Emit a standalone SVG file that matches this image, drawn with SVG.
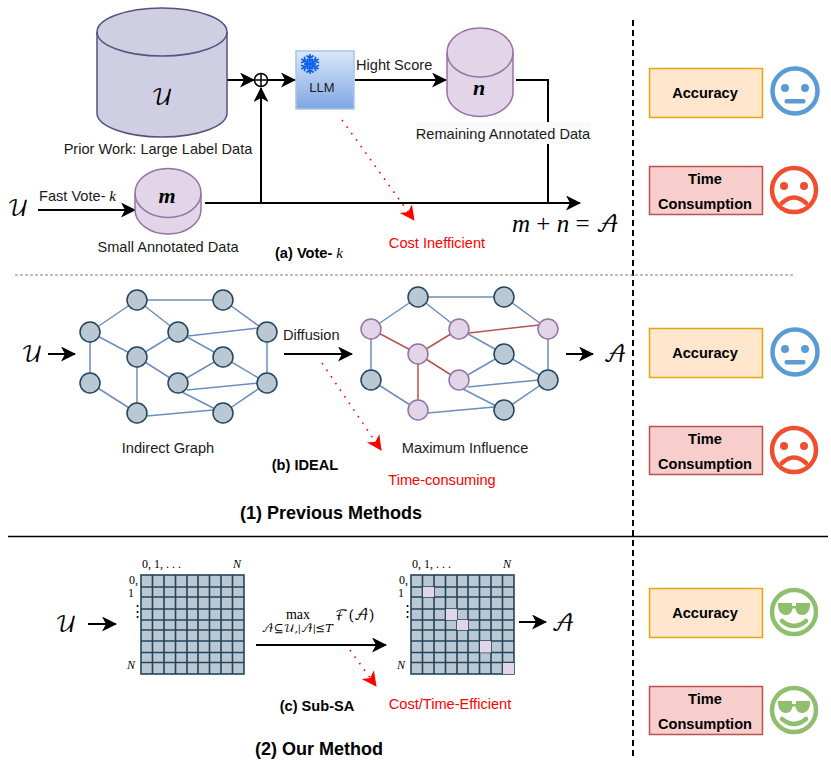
<svg xmlns="http://www.w3.org/2000/svg" xmlns:xlink="http://www.w3.org/1999/xlink" width="831" height="769" viewBox="0 0 831 769">
<style>
text{font-family:"Liberation Sans",Arial,sans-serif;font-size:14.600px;fill:#1a1a1a}
.c{text-anchor:middle}
.b{font-weight:bold;fill:#000}
.sub{font-size:14.600px}
.h{font-size:18px}
.red{fill:#ff0000}
.math{font-family:"DejaVu Math TeX Gyre","Liberation Serif",serif;fill:#000}
.m{font-family:"Liberation Serif",serif;fill:#000}
.i{font-style:italic}
.ln{fill:none;stroke:#000;stroke-width:2}
.arr{marker-end:url(#ah)}
.dot{fill:none;stroke:#ff0000;stroke-width:1.6;stroke-dasharray:1.6 6.4;marker-end:url(#rh)}
.e{stroke:#6c8ebf;stroke-width:1.5;fill:none}
.er{stroke:#b85450;stroke-width:1.5;fill:none}
.n{fill:#bac8d3;stroke:#23445d;stroke-width:1.5}
.p{fill:#e1d5e7;stroke:#9673a6;stroke-width:1.5}
.acc{fill:#ffe6cc;stroke:#e3a60f;stroke-width:1.5}
.tim{fill:#f8cecc;stroke:#b85450;stroke-width:1.5}
.blue{fill:none;stroke:#5b9bd5;stroke-width:4.5}
.redf{fill:none;stroke:#ef4f2f;stroke-width:4.5}
.grn{fill:none;stroke:#8fbf6c;stroke-width:4.5}
.grid{fill:none;stroke:#23445d;stroke-width:1.6}
.ax{font-size:12px}
</style>
<defs>
<marker id="ah" markerUnits="userSpaceOnUse" markerWidth="16" markerHeight="16" refX="14" refY="7.5" orient="auto"><path d="M0,0 L15,7.5 L0,15 L4,7.5 Z" fill="#000"/></marker>
<marker id="rh" markerUnits="userSpaceOnUse" markerWidth="16" markerHeight="16" refX="14" refY="7.5" orient="auto"><path d="M0,0 L15,7.5 L0,15 L4,7.5 Z" fill="#ff0000"/></marker>
<linearGradient id="llm" x1="0" y1="0" x2="0" y2="1"><stop offset="0" stop-color="#dae8fc"/><stop offset="1" stop-color="#7ea6e0"/></linearGradient>
<g id="arm"><path d="M0,0 V-10 M-3.5,-8.5 L0,-5.5 L3.5,-8.5 M-3,-5 L0,-2.5 L3,-5" fill="none" stroke="#0b5fe8" stroke-width="1.7"/></g>
<g id="shades"><path d="M-16,-9 H-2 V-6 H2 V-9 H16 C16.5,-3 14,3 8,3 C4,3 2,0 1.5,-3.5 H-1.5 C-2,0 -4,3 -8,3 C-14,3 -16.5,-3 -16,-9 Z" fill="#8fbf6c"/><path d="M-12,9 Q0,19 12,9" fill="none" stroke="#8fbf6c" stroke-width="4.5" stroke-linecap="round"/></g>
<g id="neutral"><circle r="22.5" class="blue"/><circle cx="-10" cy="-3" r="4" fill="#5b9bd5"/><circle cx="10" cy="-3" r="4" fill="#5b9bd5"/><rect x="-10.5" y="8" width="21" height="4.5" rx="2" fill="#5b9bd5"/></g>
<g id="sad"><circle r="22" class="redf"/><circle cx="-10" cy="-4" r="4" fill="#ef4f2f"/><circle cx="10" cy="-4" r="4" fill="#ef4f2f"/><path d="M-12,13 Q0,2 12,13" fill="none" stroke="#ef4f2f" stroke-width="4.5" stroke-linecap="round"/></g>
<g id="happy"><circle r="22" class="grn"/><use xlink:href="#shades" href="#shades"/></g>
<g id="gridlines">
<rect x="0" y="0" width="103" height="99" fill="#bac8d3" stroke="#23445d" stroke-width="1.6"/>
<path class="grid" d="M11.5,0V99M23,0V99M34.5,0V99M46,0V99M57,0V99M68.5,0V99M80,0V99M91.5,0V99M0,12H103M0,22H103M0,34H103M0,45H103M0,55H103M0,66H103M0,77.5H103M0,87.5H103"/>
</g>
<g id="axes">
<text class="m ax" x="1" y="-7">0, 1, . . .</text>
<text class="m i ax" x="92" y="-7">N</text>
<text class="m ax" x="-12" y="9">0,</text>
<text class="m ax" x="-13" y="22">1</text>
<text class="m" x="-11" y="41" style="font-size:15px">⋮</text>
<text class="m i ax" x="-14" y="94">N</text>
</g>
</defs>
<rect width="831" height="769" fill="#fff"/>

<g id="connectors">
<path class="ln arr" d="M227,80H254"/>
<path class="ln arr" d="M268,80H295"/>
<path class="ln arr" d="M261,203V88"/>
<path class="ln arr" d="M38,210H135"/>
<path class="ln arr" d="M205,203H580"/>
<path class="ln arr" d="M355,80H446"/>
<path class="ln" d="M516,80H548V203"/>
<path class="dot" d="M342,120L414,220"/>
<path class="ln arr" d="M48,354H75"/>
<path class="ln arr" d="M284,354H352"/>
<path class="ln arr" d="M566,354H593"/>
<path class="dot" d="M322,363L381,450"/>
<path class="ln arr" d="M88,624H116"/>
<path class="ln arr" d="M256,645H386"/>
<path class="ln arr" d="M519,622H546"/>
<path class="dot" d="M350,650L376,686"/>
<path d="M633,20V760" fill="none" stroke="#000" stroke-width="2" stroke-dasharray="6 4"/>
<path d="M15,275H795" fill="none" stroke="#808080" stroke-width="1.2" stroke-dasharray="3 2"/>
<path d="M8,536.500H828" fill="none" stroke="#000" stroke-width="1.5"/>
</g>

<g id="node-large-data">
<path d="M97,32V113A65,24 0 0 0 227,113V32A65,24 0 0 0 97,32Z" fill="#d0cee2" stroke="#56517e" stroke-width="1.5"/>
<path d="M97,32A65,24 0 0 0 227,32" fill="none" stroke="#56517e" stroke-width="1.5"/>
<text class="math c" x="162" y="105" style="font-size:22px">𝒰</text>
<text class="c" x="158" y="154">Prior Work: Large Label Data</text>
</g>
<g id="node-plus">
<circle cx="261" cy="80" r="6.500" fill="#fff" stroke="#000" stroke-width="1.5"/>
<path d="M254.500,80H267.500M261,73.500V86.500" stroke="#000" stroke-width="1.5"/>
</g>
<g id="node-small-data">
<text class="math" x="7" y="216" style="font-size:22px">𝒰</text>
<path d="M135,193V209.500A33,24.500 0 0 0 201,209.500V193A33,24.500 0 0 0 135,193Z" fill="#e1d5e7" stroke="#9673a6" stroke-width="1.5"/>
<path d="M135,193A33,24.500 0 0 0 201,193" fill="none" stroke="#9673a6" stroke-width="1.5"/>
<text class="m i c" x="167" y="203" style="font-size:22px;font-weight:bold">m</text>
<text x="39" y="201">Fast Vote-<tspan class="m i" style="font-size:15px"> k</tspan></text>
<text class="c" x="168" y="252">Small Annotated Data</text>
</g>
<g id="node-llm">
<rect x="296" y="51" width="58" height="58" fill="url(#llm)" stroke="#a9c4eb" stroke-width="1.5"/>
<g transform="translate(310,64)">
<use xlink:href="#arm" href="#arm"/>
<use xlink:href="#arm" href="#arm" transform="rotate(60)"/>
<use xlink:href="#arm" href="#arm" transform="rotate(120)"/>
<use xlink:href="#arm" href="#arm" transform="rotate(180)"/>
<use xlink:href="#arm" href="#arm" transform="rotate(240)"/>
<use xlink:href="#arm" href="#arm" transform="rotate(300)"/>
</g>
<text class="c" x="322" y="92" style="font-size:13px">LLM</text>
</g>
<text x="356" y="70">Hight Score</text>
<g id="node-remaining-data">
<path d="M447,52.500V92A33,24.500 0 0 0 513,92V52.500A33,24.500 0 0 0 447,52.500Z" fill="#e1d5e7" stroke="#9673a6" stroke-width="1.5"/>
<path d="M447,52.500A33,24.500 0 0 0 513,52.500" fill="none" stroke="#9673a6" stroke-width="1.5"/>
<text class="m i c" x="479" y="95" style="font-size:22px;font-weight:bold">n</text>
<rect x="416" y="122" width="175" height="22" fill="#fafafa"/>
<text class="c" x="503" y="139">Remaining Annotated Data</text>
</g>
<text class="m i" x="512" y="232" style="font-size:25px">m <tspan style="font-style:normal">+</tspan> n <tspan style="font-style:normal">=</tspan> <tspan class="math" style="font-style:normal;font-size:22px">𝒜</tspan></text>
<text class="red c" x="437" y="248">Cost Inefficient</text>
<text class="b sub" x="275" y="258">(a) Vote- <tspan class="m i" style="font-size:15px;font-weight:normal">k</tspan></text>

<g id="row1-scores">
<rect class="acc" x="649.500" y="68.500" width="113" height="49"/><text class="b c" x="705" y="98">Accuracy</text>
<use xlink:href="#neutral" href="#neutral" x="795" y="91"/>
<rect class="tim" x="649.500" y="166.500" width="113" height="48"/><text class="b c" x="705" y="184">Time</text><text class="b c" x="705" y="209">Consumption</text>
<use xlink:href="#sad" href="#sad" x="794" y="190"/>
</g>

<text class="math" x="21" y="362" style="font-size:22px">𝒰</text>
<g id="graph-indirect">
<path class="e" d="M137,300L223,300M137,300L90,332M137,300L178,332M223,300L267,332M90,332L137,357M90,332L90,383M178,332L137,357M188,336L258,328M178,332L223,357M137,357L178,383M137,357L137,413M223,357L178,383M223,357L267,383M267,332L267,383M90,383L137,413M187,390L258,383M178,390L223,413M147,416L213,410M223,413L267,383"/>
<circle class="n" cx="137" cy="300" r="10"/><circle class="n" cx="223" cy="300" r="10"/><circle class="n" cx="90" cy="332" r="10"/><circle class="n" cx="178" cy="332" r="10"/><circle class="n" cx="267" cy="332" r="10"/><circle class="n" cx="137" cy="357" r="10"/><circle class="n" cx="223" cy="357" r="10"/><circle class="n" cx="90" cy="383" r="10"/><circle class="n" cx="178" cy="383" r="10"/><circle class="n" cx="267" cy="383" r="10"/><circle class="n" cx="137" cy="413" r="10"/><circle class="n" cx="223" cy="413" r="10"/>
<text class="c" x="168" y="453">Indirect Graph</text>
</g>
<text x="283" y="340">Diffusion</text>
<g id="graph-influence">
<path class="e" d="M418,297L504,297M418,297L371,329M418,297L459,329M504,297L548,329M371,329L371,380M459,329L504,354M504,354L459,380M504,354L548,380M548,329L548,380M371,380L418,410M468,387L539,380M459,387L504,410M428,413L494,407M504,410L548,380"/>
<path class="er" d="M371,329L418,354M459,329L418,354M469,333L539,325M418,354L459,380M418,354L418,410"/>
<circle class="n" cx="418" cy="297" r="10"/><circle class="n" cx="504" cy="297" r="10"/><circle class="p" cx="371" cy="329" r="10"/><circle class="p" cx="459" cy="329" r="10"/><circle class="p" cx="548" cy="329" r="10"/><circle class="p" cx="418" cy="354" r="10"/><circle class="n" cx="504" cy="354" r="10"/><circle class="n" cx="371" cy="380" r="10"/><circle class="p" cx="459" cy="380" r="10"/><circle class="n" cx="548" cy="380" r="10"/><circle class="p" cx="418" cy="410" r="10"/><circle class="n" cx="504" cy="410" r="10"/>
<text class="c" x="465" y="453">Maximum Influence</text>
</g>
<text class="math c" x="615" y="362" style="font-size:22px">𝒜</text>
<text class="b sub c" x="305" y="470">(b) IDEAL</text>
<text class="red c" x="442" y="485">Time-consuming</text>
<text class="b h c" x="331" y="519">(1) Previous Methods</text>

<g id="row2-scores">
<rect class="acc" x="649.500" y="328.500" width="113" height="49"/><text class="b c" x="705" y="358">Accuracy</text>
<use xlink:href="#neutral" href="#neutral" x="795" y="352"/>
<rect class="tim" x="649.500" y="426.500" width="113" height="48"/><text class="b c" x="705" y="444">Time</text><text class="b c" x="705" y="469">Consumption</text>
<use xlink:href="#sad" href="#sad" x="794" y="450"/>
</g>

<text class="math" x="55" y="632" style="font-size:22px">𝒰</text>
<g id="matrix-input" transform="translate(141,575)">
<use xlink:href="#gridlines" href="#gridlines"/>
<use xlink:href="#axes" href="#axes"/>
</g>
<text class="m c" x="298" y="619" style="font-size:14px">max</text>
<text class="math c" x="298" y="632" style="font-size:11.500px">𝒜⊆𝒰,|𝒜|≤𝑇</text>
<text class="math" x="335" y="620" style="font-size:14px">ℱ(𝒜)</text>
<g id="matrix-output" transform="translate(411,575)">
<use xlink:href="#gridlines" href="#gridlines"/>
<rect x="12" y="12" width="11" height="10" fill="#e1d5e7"/>
<rect x="35" y="34" width="11" height="11" fill="#e1d5e7"/>
<rect x="46" y="45" width="11" height="10" fill="#e1d5e7"/>
<rect x="69" y="66" width="11" height="11.500" fill="#e1d5e7"/>
<rect x="92" y="88" width="11" height="11" fill="#e1d5e7"/>
<use xlink:href="#axes" href="#axes"/>
</g>
<text class="math c" x="563" y="631" style="font-size:22px">𝒜</text>
<text class="red c" x="450" y="709">Cost/Time-Efficient</text>
<text class="b sub c" x="317" y="711">(c) Sub-SA</text>
<text class="b h c" x="319" y="755">(2) Our Method</text>

<g id="row3-scores">
<rect class="acc" x="649.500" y="588.500" width="113" height="49"/><text class="b c" x="705" y="618">Accuracy</text>
<use xlink:href="#happy" href="#happy" x="794" y="612"/>
<rect class="tim" x="649.500" y="686.500" width="113" height="48"/><text class="b c" x="705" y="704">Time</text><text class="b c" x="705" y="729">Consumption</text>
<use xlink:href="#happy" href="#happy" x="794" y="710"/>
</g>
</svg>
